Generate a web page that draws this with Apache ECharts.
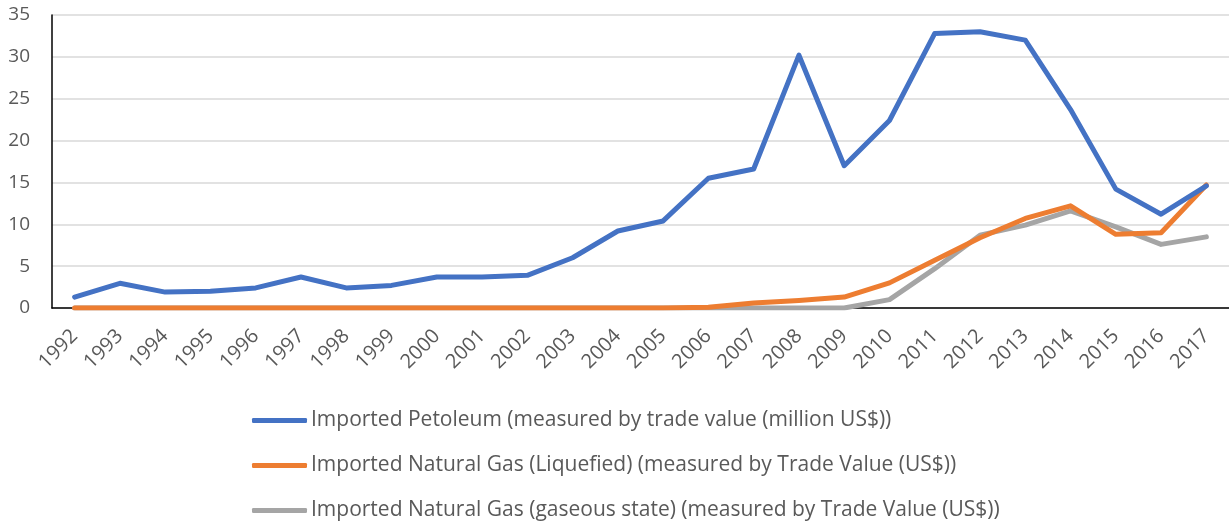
<!DOCTYPE html>
<html>
<head>
<meta charset="utf-8">
<script src="https://cdn.jsdelivr.net/npm/echarts@6/dist/echarts.min.js"></script>
<style>
  html, body { margin: 0; padding: 0; background: #fff; }
  #chart { width: 1229px; height: 523px; }
</style>
</head>
<body>
<div id="chart"></div>
<script>
// 年份
const years = ["1992", "1993", "1994", "1995", "1996", "1997", "1998", "1999", "2000",
  "2001", "2002", "2003", "2004", "2005", "2006", "2007", "2008", "2009", "2010",
  "2011", "2012", "2013", "2014", "2015", "2016", "2017"];

// 石油进口 (million US$)
const petroleum = [1.3, 2.95, 1.9, 2.0, 2.4, 3.7, 2.4, 2.7, 3.7,
  3.7, 3.9, 6.0, 9.2, 10.4, 15.5, 16.6, 30.2, 17.0, 22.4,
  32.8, 33.0, 32.0, 23.7, 14.2, 11.2, 14.6];

// 液化天然气
const lng = [0, 0, 0, 0, 0, 0, 0, 0, 0,
  0, 0, 0, 0, 0, 0.1, 0.6, 0.9, 1.3, 3.0,
  5.7, 8.4, 10.7, 12.2, 8.8, 9.0, 14.7];

// 气态天然气
const gasGaseous = [0, 0, 0, 0, 0, 0, 0, 0, 0,
  0, 0, 0, 0, 0, 0, 0, 0, 0, 1.0,
  4.7, 8.7, 9.9, 11.6, 9.7, 7.6, 8.5];

const seriesNames = [
  "Imported Petoleum (measured by trade value (million US$))",
  "Imported Natural Gas (Liquefied) (measured by Trade Value (US$))",
  "Imported Natural Gas (gaseous state) (measured by Trade Value (US$))"
];
const colors = ["#4472C4", "#ED7D31", "#A5A5A5"];

const chartInstance = echarts.init(document.getElementById("chart"));

const lineSeries = (name, data, color) => ({
  name: name,
  type: "line",
  data: data,
  symbol: "none",
  smooth: false,
  lineStyle: { width: 5, color: color, cap: "round", join: "round" },
  itemStyle: { color: color },
});

const option = {
  animation: false,
  textStyle: { fontFamily: "Open Sans, Noto Sans, sans-serif" },
  grid: {
    left: 52,
    right: 0,
    top: 15,
    bottom: 215,
    containLabel: false,
  },
  xAxis: {
    type: "category",
    data: years,
    boundaryGap: true,
    axisLine: { lineStyle: { color: "#000", width: 1.5 } },
    axisTick: { show: false },
    axisLabel: {
      rotate: 45,
      color: "#595959",
      fontSize: 20,
      margin: 25,
      interval: 0,
    },
  },
  yAxis: {
    type: "value",
    min: 0,
    max: 35,
    interval: 5,
    axisLine: { show: true, lineStyle: { color: "#000", width: 1.5 } },
    axisTick: { show: false },
    axisLabel: { color: "#595959", fontSize: 19, margin: 22 },
    splitLine: { lineStyle: { color: "#D9D9D9", width: 1.5 } },
  },
  legend: {
    orient: "vertical",
    left: 252,
    top: 410,
    height: 113,
    padding: 0,
    itemWidth: 55,
    itemHeight: 5,
    itemGap: 24,
    icon: "roundRect",
    textStyle: { color: "#595959", fontSize: 21, lineHeight: 21, padding: [0, 0, 0, -1] },
    data: seriesNames,
  },
  series: [
    lineSeries(seriesNames[2], gasGaseous, colors[2]),
    lineSeries(seriesNames[1], lng, colors[1]),
    lineSeries(seriesNames[0], petroleum, colors[0]),
  ],
};

chartInstance.setOption(option);
</script>
</body>
</html>
